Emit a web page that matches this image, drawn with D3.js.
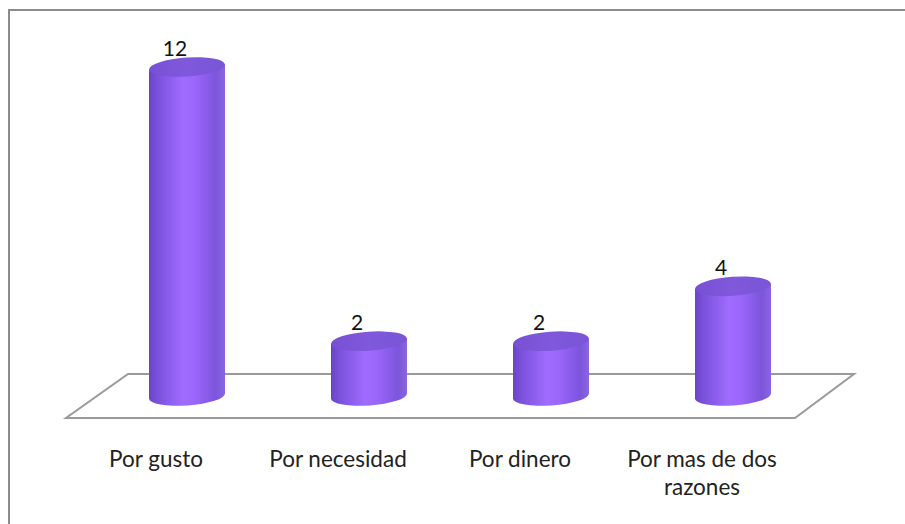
<!DOCTYPE html>
<html><head><meta charset="utf-8">
<script src="https://cdn.jsdelivr.net/npm/d3@7"></script>
<style>body{margin:0;background:#fff}svg{display:block}</style>
</head><body>
<script>
const categories = ["Por gusto", "Por necesidad", "Por dinero", "Por mas de dos razones"];
const values = [12, 2, 2, 4];
const labelLines = [["Por gusto"], ["Por necesidad"], ["Por dinero"], ["Por mas de dos", "razones"]];

const W = 905, H = 524;
const svg = d3.select("body").append("svg").attr("width", W).attr("height", H);

const defs = svg.append("defs");
const g1 = defs.append("linearGradient").attr("id", "body").attr("x1", 0).attr("x2", 1).attr("y1", 0).attr("y2", 0);
[[0, "#6a45c6"], [0.12, "#7b52dc"], [0.45, "#a06cff"], [0.6, "#9b66fb"], [0.88, "#7c55dc"], [1, "#8a66e0"]]
  .forEach(([o, c]) => g1.append("stop").attr("offset", o).attr("stop-color", c));
const g2 = defs.append("linearGradient").attr("id", "top").attr("x1", 0).attr("x2", 1).attr("y1", 0).attr("y2", 0);
[[0, "#7750d4"], [0.5, "#7f58dc"], [1, "#7a55d6"]]
  .forEach(([o, c]) => g2.append("stop").attr("offset", o).attr("stop-color", c));

// frame
svg.append("rect").attr("x", 9).attr("y", 10).attr("width", W).attr("height", H)
  .attr("fill", "none").attr("stroke", "#8c8c8c").attr("stroke-width", 2);

const x = d3.scalePoint().domain(categories).range([187, 733]);
const y = d3.scaleLinear().domain([0, 12]).range([396, 67]);

// floor
const floor = [[128, 374], [854, 374], [795, 418], [66, 418]];
svg.append("path").attr("d", "M" + floor.join("L") + "Z")
  .attr("fill", "none").attr("stroke", "#9a9a9a").attr("stroke-width", 2);

const rx = 38, ry = 9.5, rot = -4;
const bars = svg.append("g").selectAll("g").data(categories).join("g");
bars.each(function(c, i) {
  const g = d3.select(this);
  const cx = x(c), yt = y(values[i]), yb = y(0);
  const sl = Math.sin(rot * Math.PI / 180) * rx;
  g.append("path")
    .attr("d", `M${cx - rx},${yt - sl} L${cx - rx},${yb - sl} A${rx},${ry} ${rot} 0 0 ${cx + rx},${yb + sl} L${cx + rx},${yt + sl} Z`)
    .attr("fill", "url(#body)");
  g.append("ellipse").attr("cx", cx).attr("cy", yt).attr("rx", rx).attr("ry", ry)
    .attr("transform", `rotate(${rot},${cx},${yt})`)
    .attr("fill", "url(#top)");
  g.append("text").attr("x", cx - 12).attr("y", yt - 11)
    .attr("text-anchor", "middle").attr("font-family", "Lato, 'Open Sans', sans-serif")
    .attr("font-size", 21).attr("fill", "#111").text(values[i]);
});

// category labels
const lab = svg.append("g").selectAll("text").data(categories).join("text")
  .attr("x", d => x(d) - 30).attr("y", 467)
  .attr("text-anchor", "middle").attr("font-family", "Lato, 'Open Sans', sans-serif")
  .attr("font-size", 22.5).attr("fill", "#222");
lab.each(function(d, i) {
  d3.select(this).selectAll("tspan").data(labelLines[i]).join("tspan")
    .attr("x", x(d) - 31).attr("dy", (t, j) => j === 0 ? 0 : 28).text(t => t);
});
</script>
</body></html>
